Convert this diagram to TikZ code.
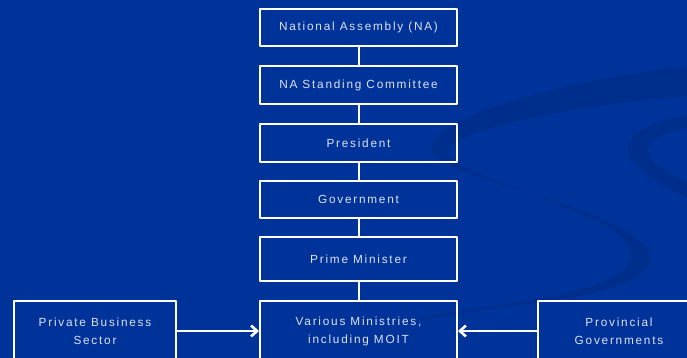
\documentclass[tikz,border=0pt]{standalone}
\usepackage{fontspec}
\newfontfamily\orgfont[LetterSpace=15]{Liberation Sans}
\usetikzlibrary{arrows.meta}
\definecolor{slidebg}{RGB}{0,51,153}
\definecolor{swoosh}{RGB}{0,46,140}
\definecolor{boxtext}{RGB}{222,226,240}
\begin{document}
\begin{tikzpicture}[x=1pt, y=1pt, font=\orgfont\fontsize{11.8}{18}\selectfont, line join=round,
		orgbox/.style={draw=white, line width=2pt, text=boxtext, align=center, inner sep=0pt, minimum width=197pt},
		link/.style={draw=white, line width=2pt},
		feed/.style={draw=white, line width=2.6pt, -{Straight Barb[length=6pt,width=11pt]}}]
	\useasboundingbox (0,0) rectangle (687,358);
	\fill[slidebg] (0,0) rectangle (687,358);
	\begin{scope}
		\clip (0,0) rectangle (687,358);
		% background swooshes
		\fill[swoosh] (687,292) .. controls (600,282) and (430,248) .. (432,208)
			.. controls (432,185) and (570,160) .. (625,128)
			.. controls (680,95) and (640,68) .. (540,56)
			.. controls (500,51) and (460,45) .. (420,38)
			-- (420,41) .. controls (470,49) and (520,56) .. (545,61)
			.. controls (630,76) and (652,100) .. (612,128)
			.. controls (560,160) and (452,185) .. (448,206)
			.. controls (452,232) and (600,255) .. (687,262) -- cycle;
		\fill[swoosh] (687,243) .. controls (645,235) and (627,222) .. (628,208)
			.. controls (632,190) and (660,172) .. (687,160)
			-- (687,176) .. controls (664,186) and (648,198) .. (648,208)
			.. controls (650,220) and (665,226) .. (687,230) -- cycle;
		% hierarchy
		\node[orgbox, minimum height=37pt] (na) at (358.5,330.5) {National Assembly (NA)};
		\node[orgbox, minimum height=38pt] (nasc) at (358.5,273) {NA Standing Committee};
		\node[orgbox, minimum height=38pt] (pres) at (358.5,215) {President};
		\node[orgbox, minimum height=37pt] (gov) at (358.5,158.5) {Government};
		\node[orgbox, minimum height=44pt] (pm) at (358.5,99) {Prime Minister};
		\node[orgbox, minimum height=60pt] (mins) at (358.5,27) {Various Ministries,\\including MOIT};
		\node[orgbox, minimum width=162pt, minimum height=60pt] (priv) at (95,27) {Private Business\\Sector};
		\node[orgbox, minimum width=162pt, minimum height=60pt] (prov) at (619,27) {Provincial\\Governments};
		\foreach \a/\b in {na/nasc, nasc/pres, pres/gov, gov/pm, pm/mins}
			\draw[link] (\a) -- (\b);
		\draw[feed] (priv) -- (mins);
		\draw[feed] (prov) -- (mins);
	\end{scope}
\end{tikzpicture}
\end{document}
